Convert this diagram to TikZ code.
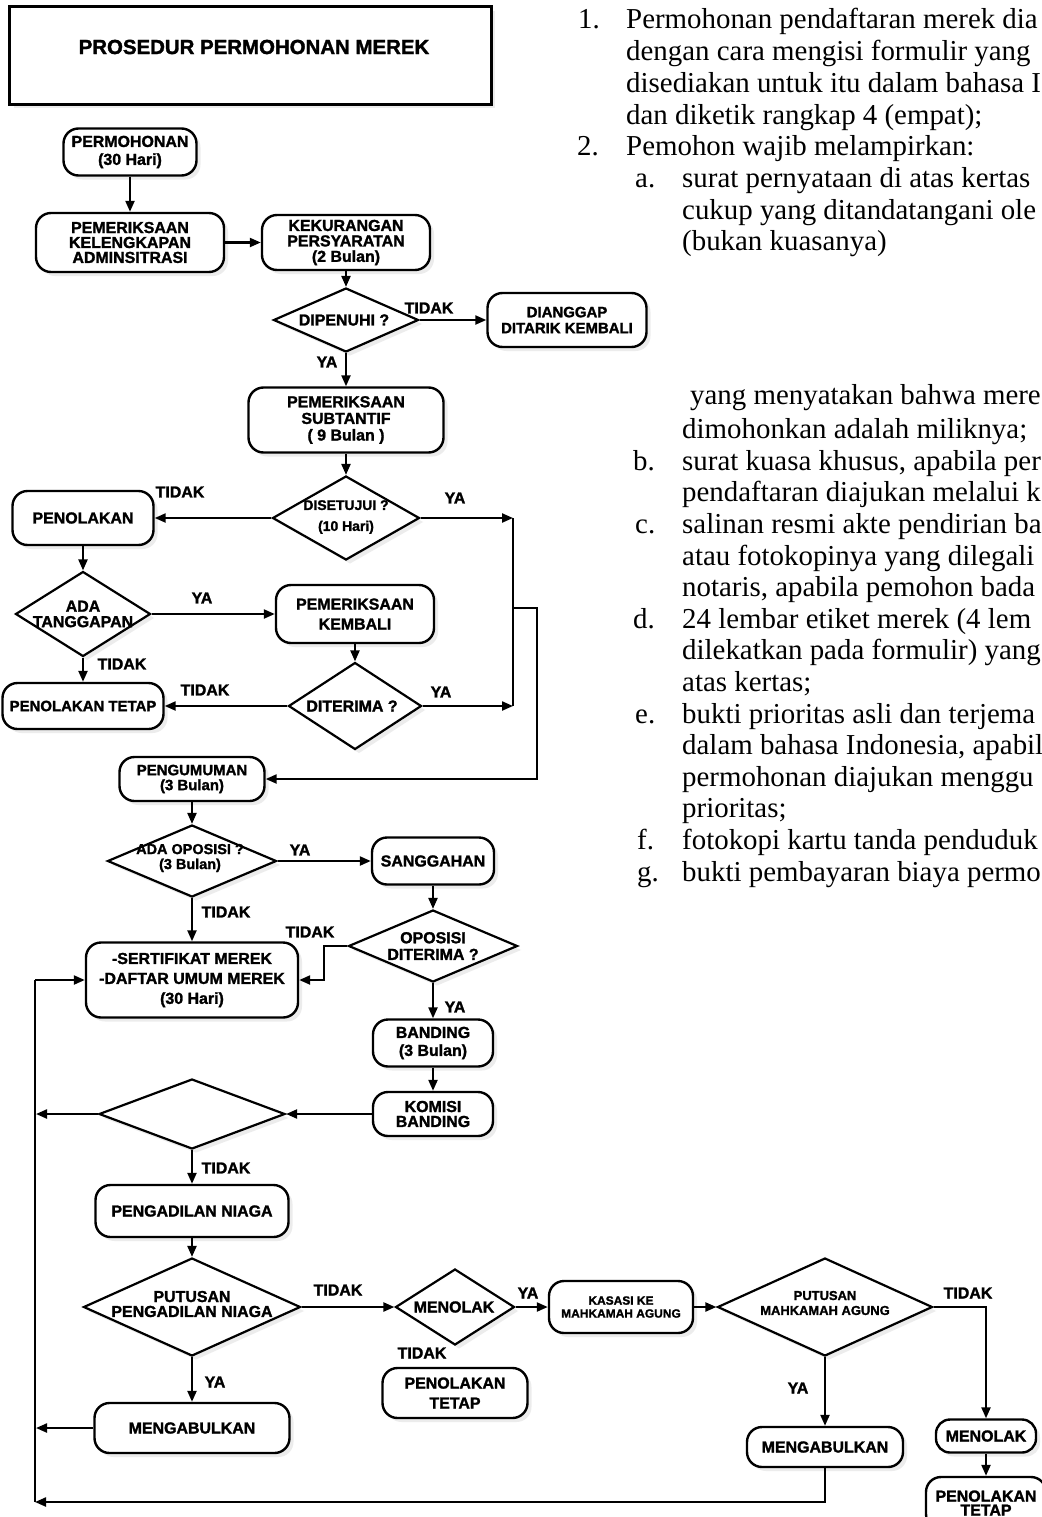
\documentclass[tikz,border=0pt]{standalone}
\usepackage{fontspec}
\setmainfont{Liberation Sans}[BoldFeatures={FakeBold=1.6}]
\newfontfamily\serifT{Liberation Serif}
\usetikzlibrary{arrows.meta,shapes.geometric,shadows}
\newcommand\fsz[2]{\fontsize{#1}{#2}\selectfont}
\tikzset{
  shad/.style={drop shadow={shadow xshift=4bp, shadow yshift=-4bp, opacity=0.18, fill=gray!80}},
  box/.style={draw, line width=2.4bp, rounded corners=15bp, fill=white, align=center, inner sep=0pt,
     font=\bfseries\fsz{16}{16.5}, shad},
  dia/.style={draw, diamond, line width=2.2bp, fill=white, inner sep=0pt, shad},
  dtext/.style={align=center, font=\bfseries\fsz{16}{15.5}, inner sep=0pt},
  lab/.style={font=\bfseries\fsz{16}{16}, inner sep=0pt},
  conn/.style={line width=2.2bp, -{Triangle[length=11bp,width=9bp]}},
  plain/.style={line width=2.2bp},
  body/.style={font=\serifT\fsz{29}{31.7}, anchor=base west, inner sep=0pt},
}
\begin{document}
\begin{tikzpicture}[x=1bp,y=-1bp]
\fill[white] (0,0) rectangle (1041,1517);
\path[use as bounding box] (0,0) rectangle (1041,1517);

% title
\node[draw, line width=3bp, minimum width=481bp, minimum height=97bp, inner sep=0pt, fill=white, shad] (titlebox) at (250.5,55.5) {};
\node[font=\bfseries\fsz{20.5}{21}, inner sep=0pt] (titletext) at (254,47) {PROSEDUR PERMOHONAN MEREK};

% upper part
\node[box, minimum width=133bp, minimum height=47bp, font=\bfseries\fsz{16}{18}] (permohonan) at (130,152) {PERMOHONAN\\(30 Hari)};
\node[box, minimum width=188bp, minimum height=59bp, font=\bfseries\fsz{16}{15}] (pemeriksaan) at (130,242.5) {PEMERIKSAAN\\KELENGKAPAN\\ADMINSITRASI};
\node[box, minimum width=168bp, minimum height=55bp, font=\bfseries\fsz{16}{15.5}] (kekurangan) at (346,242.5) {KEKURANGAN\\PERSYARATAN\\(2 Bulan)};
\node[dia, minimum width=145bp, minimum height=64bp] (dipenuhi) at (346,320) {};
\node[dtext] (dipenuhiT) at (344,320) {DIPENUHI ?};
\node[box, minimum width=159bp, minimum height=54bp, font=\bfseries\fsz{15}{16}] (dianggap) at (567,320) {DIANGGAP\\DITARIK KEMBALI};
\node[box, minimum width=195bp, minimum height=65bp, font=\bfseries\fsz{16}{16.7}] (subtantif) at (346,420) {PEMERIKSAAN\\SUBTANTIF\\( 9 Bulan )};
\node[dia, minimum width=147bp, minimum height=84bp] (disetujui) at (346,518) {};
\node[dtext, font=\bfseries\fsz{14}{21}] (disetujuiT) at (346,517) {DISETUJUI ?\\(10 Hari)};
\node[box, minimum width=141bp, minimum height=54bp] (penolakan) at (83,518) {PENOLAKAN};
\node[dia, minimum width=135bp, minimum height=85bp] (tanggapan) at (83,614) {};
\node[dtext] (tanggapanT) at (83,614) {ADA\\TANGGAPAN};
\node[box, minimum width=158bp, minimum height=58bp, font=\bfseries\fsz{16}{20}] (kembali) at (355,614) {PEMERIKSAAN\\KEMBALI};
\node[dia, minimum width=133bp, minimum height=87bp] (diterima) at (355,706) {};
\node[dtext] (diterimaT) at (352,706) {DITERIMA ?};
\node[box, minimum width=161bp, minimum height=46bp, font=\bfseries\fsz{15}{16}] (pentetap) at (83,706) {PENOLAKAN TETAP};

% middle part
\node[box, minimum width=145bp, minimum height=44bp, font=\bfseries\fsz{15}{15}] (pengumuman) at (192,779) {PENGUMUMAN\\(3 Bulan)};
\node[dia, minimum width=169bp, minimum height=72bp] (oposisi) at (192,861) {};
\node[dtext, font=\bfseries\fsz{14.5}{15}] (oposisiT) at (190,858) {ADA OPOSISI ?\\(3 Bulan)};
\node[box, minimum width=122bp, minimum height=47bp] (sanggahan) at (433,861) {SANGGAHAN};
\node[dia, minimum width=169bp, minimum height=72bp] (opdit) at (433,946) {};
\node[dtext, font=\bfseries\fsz{16}{16.7}] (opditT) at (433,946) {OPOSISI\\DITERIMA ?};
\node[box, minimum width=212bp, minimum height=75bp, font=\bfseries\fsz{16}{20}] (sertifikat) at (192,980) {-SERTIFIKAT MEREK\\-DAFTAR UMUM MEREK\\(30 Hari)};
\node[box, minimum width=120bp, minimum height=47bp, font=\bfseries\fsz{16}{18}] (banding) at (433,1043) {BANDING\\(3 Bulan)};
\node[box, minimum width=120bp, minimum height=44bp, font=\bfseries\fsz{16}{15}] (komisi) at (433,1114) {KOMISI\\BANDING};
\node[dia, minimum width=186bp, minimum height=70bp] (emptyd) at (192,1114) {};

% lower part
\node[box, minimum width=193bp, minimum height=52bp] (pengadilan) at (192,1211) {PENGADILAN NIAGA};
\node[dia, minimum width=217bp, minimum height=98bp] (putusanPN) at (192,1307) {};
\node[dtext, font=\bfseries\fsz{16}{15}] (putusanPNT) at (192,1304) {PUTUSAN\\PENGADILAN NIAGA};
\node[box, minimum width=195bp, minimum height=50bp] (mengabulkan) at (192,1428) {MENGABULKAN};
\node[dia, minimum width=119bp, minimum height=76bp] (menolakD) at (455,1307) {};
\node[dtext] (menolakDT) at (454,1307) {MENOLAK};
\node[box, minimum width=145bp, minimum height=50bp, font=\bfseries\fsz{16}{20}] (pentetap2) at (455,1393) {PENOLAKAN\\TETAP};
\node[box, minimum width=144bp, minimum height=52bp, font=\bfseries\fsz{12}{13}] (kasasi) at (621,1307) {KASASI KE\\MAHKAMAH AGUNG};
\node[dia, minimum width=215bp, minimum height=98bp] (putusanMA) at (825,1307) {};
\node[dtext, font=\bfseries\fsz{13}{15}] (putusanMAT) at (825,1303) {PUTUSAN\\MAHKAMAH AGUNG};
\node[box, minimum width=156bp, minimum height=40bp] (mengabulkanR) at (825,1447) {MENGABULKAN};
\node[box, minimum width=100bp, minimum height=33bp, rounded corners=14bp] (menolakR) at (986,1436) {MENOLAK};
\node[box, minimum width=120bp, minimum height=52bp, font=\bfseries\fsz{16}{14}] (pentetapR) at (986,1503) {PENOLAKAN\\TETAP};

% junction coordinates
\coordinate (j1) at (513,518);
\coordinate (j2) at (513,706);
\coordinate (jm) at (513,608);
\coordinate (jr) at (537,608);
\coordinate (jb) at (537,779);
\coordinate (b1) at (324,946);
\coordinate (L1) at (35,980);
\coordinate (L2) at (35,1502);
\coordinate (L3) at (36,1114);
\coordinate (L4) at (36,1428);
\coordinate (B1) at (825,1502);

% connectors
\draw[conn] (permohonan.south) -- (pemeriksaan.north);
\draw[conn] (pemeriksaan.east) -- (kekurangan.west);
\draw[conn] (kekurangan.south) -- (dipenuhi.north);
\draw[conn] (dipenuhi.east) -- (dianggap.west);
\draw[conn] (dipenuhi.south) -- (subtantif.north);
\draw[conn] (subtantif.south) -- (disetujui.north);
\draw[conn] (disetujui.west) -- (penolakan.east);
\draw[conn] (disetujui.east) -- (j1);
\draw[conn] (penolakan.south) -- (tanggapan.north);
\draw[conn] (tanggapan.east) -- (kembali.west);
\draw[conn] (tanggapan.south) -- (pentetap.north);
\draw[conn] (kembali.south) -- (diterima.north);
\draw[conn] (diterima.west) -- (pentetap.east);
\draw[conn] (diterima.east) -- (j2);
\draw[plain] (j1) -- (j2);
\draw[conn] (jm) -- (jr) -- (jb) -- (pengumuman.east);
\draw[conn] (pengumuman.south) -- (oposisi.north);
\draw[conn] (oposisi.east) -- (sanggahan.west);
\draw[conn] (oposisi.south) -- (sertifikat.north);
\draw[conn] (sanggahan.south) -- (opdit.north);
\draw[conn] (opdit.west) -- (b1) |- (sertifikat.east);
\draw[conn] (opdit.south) -- (banding.north);
\draw[conn] (banding.south) -- (komisi.north);
\draw[conn] (komisi.west) -- (emptyd.east);
\draw[conn] (emptyd.west) -- (L3);
\draw[conn] (emptyd.south) -- (pengadilan.north);
\draw[plain] (L1) -- (L2);
\draw[conn] (L1) -- (sertifikat.west);
\draw[conn] (pengadilan.south) -- (putusanPN.north);
\draw[conn] (putusanPN.east) -- (menolakD.west);
\draw[conn] (putusanPN.south) -- (mengabulkan.north);
\draw[conn] (mengabulkan.west) -- (L4);
\draw[conn] (menolakD.east) -- (kasasi.west);
\draw[conn] (kasasi.east) -- (putusanMA.west);
\draw[conn] (putusanMA.east) -| (menolakR.north);
\draw[conn] (putusanMA.south) -- (mengabulkanR.north);
\draw[conn] (menolakR.south) -- (pentetapR.north);
\draw[conn] (mengabulkanR.south) -- (B1) -- (L2);

% branch labels
\node[lab] (l1) at (429,308) {TIDAK};
\node[lab] (l2) at (327,362) {YA};
\node[lab] (l3) at (180,492) {TIDAK};
\node[lab] (l4) at (455,498) {YA};
\node[lab] (l5) at (202,598) {YA};
\node[lab] (l6) at (122,664) {TIDAK};
\node[lab] (l7) at (205,690) {TIDAK};
\node[lab] (l8) at (441,692) {YA};
\node[lab] (l9) at (300,850) {YA};
\node[lab] (l10) at (226,912) {TIDAK};
\node[lab] (l11) at (310,932) {TIDAK};
\node[lab] (l12) at (455,1007) {YA};
\node[lab] (l13) at (226,1168) {TIDAK};
\node[lab] (l14) at (338,1290) {TIDAK};
\node[lab] (l15) at (215,1382) {YA};
\node[lab] (l16) at (422,1353) {TIDAK};
\node[lab] (l17) at (528,1293) {YA};
\node[lab] (l18) at (968,1293) {TIDAK};
\node[lab] (l19) at (798,1388) {YA};

% right text column
\node[body] (n1) at (578,29) {1.};
\node[body] (t1) at (626,29) {Permohonan pendaftaran merek dia};
\node[body] (t2) at (626,60.7) {dengan cara mengisi formulir yang};
\node[body] (t3) at (626,92.4) {disediakan untuk itu dalam bahasa I};
\node[body] (t4) at (626,124.1) {dan diketik rangkap 4 (empat);};
\node[body] (n2) at (577,155.8) {2.};
\node[body] (t5) at (626,155.8) {Pemohon wajib melampirkan:};
\node[body] (la) at (635,187.5) {a.};
\node[body] (t6) at (682,187.5) {surat pernyataan di atas kertas};
\node[body] (t7) at (682,219.2) {cukup yang ditandatangani ole};
\node[body] (t8) at (682,250.9) {(bukan kuasanya)};
\node[body] (t9) at (690,404) {yang menyatakan bahwa mere};
\node[body] (t10) at (682,438.6) {dimohonkan adalah miliknya;};
\node[body] (lb) at (633,470.2) {b.};
\node[body] (t11) at (682,470.2) {surat kuasa khusus, apabila per};
\node[body] (t12) at (682,501.8) {pendaftaran diajukan melalui k};
\node[body] (lc) at (635,533.4) {c.};
\node[body] (t13) at (682,533.4) {salinan resmi akte pendirian ba};
\node[body] (t14) at (682,565) {atau fotokopinya yang dilegali};
\node[body] (t15) at (682,596.6) {notaris, apabila pemohon bada};
\node[body] (ld) at (633,628.2) {d.};
\node[body] (t16) at (682,628.2) {24 lembar etiket merek (4 lem};
\node[body] (t17) at (682,659.8) {dilekatkan pada formulir) yang};
\node[body] (t18) at (682,691.4) {atas kertas;};
\node[body] (le) at (635,723) {e.};
\node[body] (t19) at (682,723) {bukti prioritas asli dan terjema};
\node[body] (t20) at (682,754.6) {dalam bahasa Indonesia, apabil};
\node[body] (t21) at (682,786.2) {permohonan diajukan menggu};
\node[body] (t22) at (682,817.8) {prioritas;};
\node[body] (lf) at (637,849.4) {f.};
\node[body] (t23) at (682,849.4) {fotokopi kartu tanda penduduk};
\node[body] (lg) at (637,881) {g.};
\node[body] (t24) at (682,881) {bukti pembayaran biaya permo};
\end{tikzpicture}
\end{document}
